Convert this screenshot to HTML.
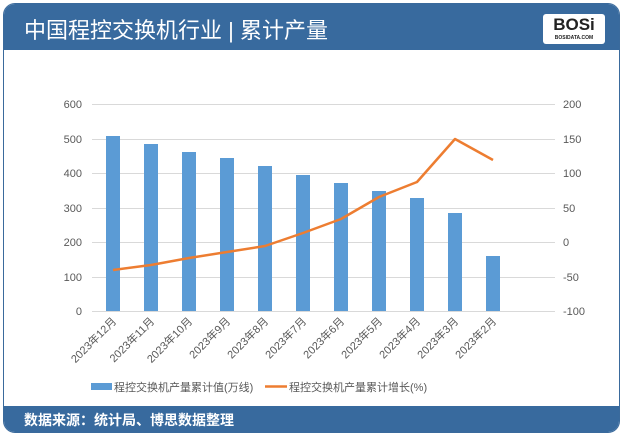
<!DOCTYPE html>
<html><head><meta charset="utf-8"><style>
body{margin:0;width:623px;height:433px;background:#fff;overflow:hidden;font-family:"Liberation Sans","Noto Sans CJK SC",sans-serif}
.frame{position:absolute;left:3px;top:3px;width:615px;height:428px;border:1px solid #3a6a9c;border-radius:12px;overflow:hidden;background:#fff}
.hd{position:absolute;left:0;top:0;width:100%;height:46px;background:#386a9e}
.hd span{position:absolute;left:20px;top:9px;color:#fff;font-size:22px}
.ft{position:absolute;left:0;bottom:0;width:100%;height:26px;background:#386a9e;color:#fff;font-size:14px;font-weight:bold}
.ft span{position:absolute;left:20px;top:4px}
.logo{position:absolute;right:14px;top:10px;width:62px;height:30px;background:#fff;border-radius:3px;text-align:center;font-weight:bold;font-size:17px;line-height:22px;color:#222}
.logo small{display:block;font-size:5px;line-height:5px}
</style></head><body>
<div class="frame">
<div class="hd"><span>中国程控交换机行业 | 累计产量</span><div class="logo">BOSi<small>BOSIDATA.COM</small></div></div>
<div class="ft"><span>数据来源：统计局、博思数据整理</span></div>
</div>
<svg style="position:absolute;left:0;top:0" width="623" height="433" font-family="Liberation Sans, Noto Sans CJK SC, sans-serif" font-size="11" fill="#595959">
<g stroke="#d9d9d9" stroke-width="1">
<line x1="92" y1="104.5" x2="555" y2="104.5"/><line x1="92" y1="139.5" x2="555" y2="139.5"/><line x1="92" y1="173.5" x2="555" y2="173.5"/><line x1="92" y1="208.5" x2="555" y2="208.5"/><line x1="92" y1="242.5" x2="555" y2="242.5"/><line x1="92" y1="277.5" x2="555" y2="277.5"/><line x1="92" y1="311.5" x2="555" y2="311.5"/>
</g>
<g text-anchor="end"><text x="82" y="108">600</text><text x="82" y="143">500</text><text x="82" y="177">400</text><text x="82" y="212">300</text><text x="82" y="246">200</text><text x="82" y="281">100</text><text x="82" y="315">0</text></g>
<g text-anchor="start"><text x="563" y="108">200</text><text x="563" y="143">150</text><text x="563" y="177">100</text><text x="563" y="212">50</text><text x="563" y="246">0</text><text x="563" y="281">-50</text><text x="563" y="315">-100</text></g>
<g fill="#5b9bd5">
<rect x="106" y="136" width="14" height="175"/><rect x="144" y="144" width="14" height="167"/><rect x="182" y="152" width="14" height="159"/><rect x="220" y="158" width="14" height="153"/><rect x="258" y="166" width="14" height="145"/><rect x="296" y="175" width="14" height="136"/><rect x="334" y="183" width="14" height="128"/><rect x="372" y="191" width="14" height="120"/><rect x="410" y="198" width="14" height="113"/><rect x="448" y="213" width="14" height="98"/><rect x="486" y="256" width="14" height="55"/>
</g>
<polyline fill="none" stroke="#ed7d31" stroke-width="2.5" stroke-linejoin="round" points="113,270 151,265 189,258 227,252 265,246 303,233 341,219 379,197 417,182 455,139 493,160"/>
<g font-size="11" text-anchor="end">
<text transform="translate(117,322) rotate(-45)">2023年12月</text>
<text transform="translate(155,322) rotate(-45)">2023年11月</text>
<text transform="translate(193,322) rotate(-45)">2023年10月</text>
<text transform="translate(231,322) rotate(-45)">2023年9月</text>
<text transform="translate(269,322) rotate(-45)">2023年8月</text>
<text transform="translate(307,322) rotate(-45)">2023年7月</text>
<text transform="translate(345,322) rotate(-45)">2023年6月</text>
<text transform="translate(383,322) rotate(-45)">2023年5月</text>
<text transform="translate(421,322) rotate(-45)">2023年4月</text>
<text transform="translate(459,322) rotate(-45)">2023年3月</text>
<text transform="translate(497,322) rotate(-45)">2023年2月</text>
</g>
<rect x="91" y="383" width="21" height="7" fill="#5b9bd5"/>
<text x="114" y="391">程控交换机产量累计值(万线)</text>
<line x1="265" y1="386.5" x2="287" y2="386.5" stroke="#ed7d31" stroke-width="2.5"/>
<text x="289" y="391">程控交换机产量累计增长(%)</text>
</svg>
</body></html>
